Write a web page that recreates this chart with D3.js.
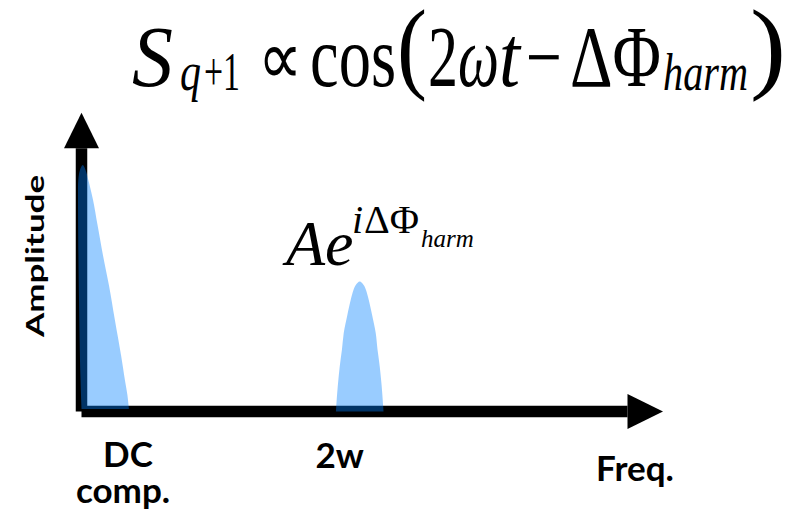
<!DOCTYPE html>
<html>
<head>
<meta charset="utf-8">
<script src="https://cdn.jsdelivr.net/npm/d3@7/dist/d3.min.js"></script>
<style>
  html, body { margin: 0; padding: 0; background: #fff; }
  svg { display: block; }
</style>
</head>
<body>
<svg id="chart" width="795" height="517"></svg>
<script>
// ---- data -------------------------------------------------------------
// Frequency in units of the drive frequency w, amplitude normalised to the DC peak.
const categories = ["DC comp.", "2w"];
const peakCenters = [0, 2];
const peakAmplitudes = [1.0, 0.527];

// DC component outline (one-sided peak hugging the amplitude axis)
const dcFreq = [0.001, -0.007, -0.018, -0.025, -0.023, -0.011, 0.009, 0.029, 0.049, 0.083, 0.115, 0.154, 0.197, 0.240, 0.284, 0.312, 0.330, 0.341];
const dcAmp  = [0.010,  0.128,  0.452,  0.858,  0.939,  0.980, 1.000, 0.980, 0.939, 0.858, 0.757, 0.635, 0.513, 0.371, 0.229, 0.128, 0.067, 0.010];

// 2w harmonic: half-width of the peak (in w) at each amplitude level
const harmAmp    = [0.527, 0.513, 0.493, 0.452, 0.391, 0.318, 0.250, 0.182, 0.108, 0.019, 0.000];
const harmOffset = [0.000, 0.028, 0.045, 0.065, 0.089, 0.115, 0.128, 0.144, 0.157, 0.169, 0.171];

const freqMax = 4.18;   // end of the frequency axis
const ampMax = 1.212;   // end of the amplitude axis

// ---- layout -----------------------------------------------------------
const svg = d3.select("#chart");
const x = d3.scaleLinear().domain([0, freqMax]).range([81.5, 663]);
const y = d3.scaleLinear().domain([0, ampMax]).range([411.5, 112.7]);

const axisWidth = 11.5;
const headLen = 35.5, headHalf = 17.5;

// ---- axes (thick arrows) ---------------------------------------------
const axes = svg.append("g");
axes.append("line")
  .attr("x1", x(0)).attr("y1", y(0))
  .attr("x2", x(0)).attr("y2", y(ampMax) + headLen)
  .attr("stroke", "#000").attr("stroke-width", axisWidth);
axes.append("path")
  .attr("d", `M${x(0)},${y(ampMax)} L${x(0) - headHalf},${y(ampMax) + headLen} L${x(0) + headHalf},${y(ampMax) + headLen}Z`)
  .attr("fill", "#000");
axes.append("line")
  .attr("x1", x(0)).attr("y1", y(0))
  .attr("x2", x(freqMax) - headLen).attr("y2", y(0))
  .attr("stroke", "#000").attr("stroke-width", axisWidth);
axes.append("path")
  .attr("d", `M${x(freqMax)},${y(0)} L${x(freqMax) - headLen},${y(0) - headHalf} L${x(freqMax) - headLen},${y(0) + headHalf}Z`)
  .attr("fill", "#000");

// ---- spectral peaks ---------------------------------------------------
const outline = d3.line()
  .x(d => x(d[0])).y(d => y(d[1]))
  .curve(d3.curveCatmullRom.alpha(0.5));

const dcPts = dcFreq.map((f, i) => [peakCenters[0] + f, dcAmp[i]]);
const n = harmOffset.length;
const harmPts = harmAmp.slice().reverse().map((a, i) => [peakCenters[1] - harmOffset[n - 1 - i], a])
  .concat(harmAmp.slice(1).map((a, i) => [peakCenters[1] + harmOffset[i + 1], a]));

const peaks = svg.append("g");
[dcPts, harmPts].forEach(pts => {
  peaks.append("path")
    .attr("d", outline(pts) + "Z")
    .attr("fill", "rgb(0,128,255)")
    .attr("fill-opacity", 0.4);
});

// ---- axis labels ------------------------------------------------------
const labelFont = "Lato, 'Open Sans', sans-serif";
const lab = svg.append("g").attr("font-family", labelFont).attr("font-weight", 700)
  .attr("font-size", 35).attr("fill", "#000").attr("text-anchor", "middle");

// DC label on two lines
const dcWords = categories[0].split(" ");
const dcText = lab.append("text").attr("y", 467);
dcText.append("tspan").attr("x", 128).text(dcWords[0]);
dcText.append("tspan").attr("x", 123).attr("dy", 36).text(dcWords[1]);

lab.append("text").attr("x", x(peakCenters[1]) - 20).attr("y", 468).text(categories[1]);
lab.append("text").attr("x", 635).attr("y", 481).text("Freq.");
lab.append("text")
  .attr("transform", "translate(44,256) rotate(-90) scale(1,0.7)")
  .text("Amplitude");

// ---- formula: S_{q+1} ∝ cos(2ωt − ΔΦ_harm) ----------------------------
// Each symbol is set in its own text run and stretched to fill its slot.
const serif = "'Liberation Serif', 'Times New Roman', serif";
const fm = svg.append("g").attr("font-family", serif).attr("fill", "#000");
function piece(txt, left, right, base, size, italic, sy) {
  const t = fm.append("text")
    .attr("font-size", size)
    .attr("font-style", italic ? "italic" : "normal")
    .text(txt);
  const w = t.node().getComputedTextLength();
  const sx = (right - left) / w;
  t.attr("transform", `translate(${left},${base}) scale(${sx},${sy || 1})`);
}
piece("S",       132, 173, 86, 86, true);
piece("q",       180, 201, 90, 54, true);
piece("+1",      204, 240, 90, 54, false);
piece("\u221D",  258, 302, 84, 76, false);
piece("cos",     310, 396, 86, 86, false);
piece("(",       397, 427, 80, 86, false, 1.17);
piece("2",       428, 458, 86, 86, false);
piece("\u03C9",  458, 499, 86, 86, true);
piece("t",       499, 520, 86, 86, true);
piece("\u2212",  526, 562, 86, 86, false);
piece("\u0394\u03A6", 570, 661, 86, 86, false);
piece("harm",    663, 748, 90, 52, true);
piece(")",       750, 786, 80, 86, false, 1.17);

// ---- peak annotation: A e^{iΔΦ_harm} ----------------------------------
const an = svg.append("g").attr("font-family", serif).attr("fill", "#000");
an.append("text").attr("x", 286).attr("y", 265).attr("font-size", 64).attr("font-style", "italic").text("Ae");
an.append("text").attr("x", 352).attr("y", 233).attr("font-size", 40).attr("font-style", "italic").text("i");
an.append("text").attr("x", 364).attr("y", 233).attr("font-size", 40).text("\u0394\u03A6");
an.append("text").attr("x", 421).attr("y", 247).attr("font-size", 25).attr("font-style", "italic").text("harm");
</script>
</body>
</html>
